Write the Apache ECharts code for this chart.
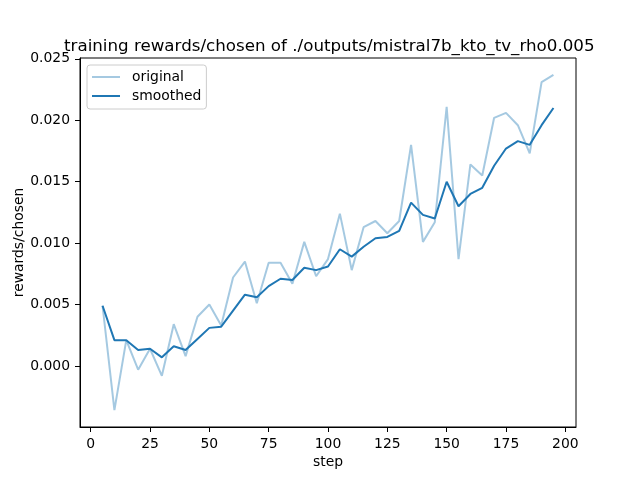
<!DOCTYPE html>
<html>
<head>
<meta charset="utf-8">
<script src="https://cdn.jsdelivr.net/npm/echarts@6/dist/echarts.min.js"></script>
<style>
  html, body { margin: 0; padding: 0; background: #fff; }
  #chart { width: 640px; height: 480px; }
</style>
</head>
<body>
<div id="chart"></div>
<script>
// steps logged every 5
const steps = [5, 10, 15, 20, 25, 30, 35, 40, 45, 50, 55, 60, 65, 70, 75, 80, 85, 90, 95, 100,
  105, 110, 115, 120, 125, 130, 135, 140, 145, 150, 155, 160, 165, 170, 175, 180, 185, 190, 195];
const original = [0.0049, -0.0036, 0.0021, -0.0003, 0.0014, -0.0008, 0.0034, 0.0008, 0.0040, 0.0050,
  0.0033, 0.0072, 0.0085, 0.0051, 0.0084, 0.0084, 0.0067, 0.0101, 0.0073, 0.0087,
  0.0124, 0.0078, 0.0113, 0.0118, 0.0108, 0.0118, 0.0180, 0.0101, 0.0117, 0.0211,
  0.0087, 0.0164, 0.0155, 0.0202, 0.0206, 0.0196, 0.0173, 0.0231, 0.0237];
const smoothed = [0.0049, 0.0021, 0.0021, 0.0013, 0.0014, 0.0007, 0.0016, 0.0013, 0.0022, 0.0031,
  0.0032, 0.0045, 0.0058, 0.0056, 0.0065, 0.0071, 0.0070, 0.0080, 0.0078, 0.0081,
  0.0095, 0.0089, 0.0097, 0.0104, 0.0105, 0.0110, 0.0133, 0.0123, 0.0120, 0.0150,
  0.0130, 0.0140, 0.0145, 0.0163, 0.0177, 0.0183, 0.0180, 0.0196, 0.0210];
const xTicks = [0, 25, 50, 75, 100, 125, 150, 175, 200];
const yTicks = [0, 0.005, 0.010, 0.015, 0.020, 0.025];

const font = 'DejaVu Sans';
let chart = echarts.init(document.getElementById('chart'), null, { renderer: 'canvas' });

let pairs = (ys) => steps.map((s, i) => [s, ys[i]]);

chart.setOption({
    animation: false,
    backgroundColor: '#fff',
    title: {
        text: 'training rewards/chosen of ./outputs/mistral7b_kto_tv_rho0.005',
        left: 59,
        top: 33,
        textStyle: { fontFamily: font, fontSize: 16.7, fontWeight: 'normal', color: '#000' }
    },
    grid: {
        left: 80, right: 64, top: 58, bottom: 53,
        show: true, borderColor: '#000', borderWidth: 1, backgroundColor: 'transparent'
    },
    legend: {
        orient: 'vertical',
        left: 87, top: 65,
        padding: [5, 5, 6, 5],
        itemWidth: 28, itemHeight: 2, itemGap: 5,
        backgroundColor: 'rgba(255,255,255,0.8)',
        borderColor: '#cccccc', borderWidth: 1, borderRadius: 3,
        textStyle: { fontFamily: font, fontSize: 13.9, color: '#000', padding: [0, 0, 0, 7] },
        data: [{ name: 'original', icon: 'rect' }, { name: 'smoothed', icon: 'rect' }]
    },
    xAxis: {
        type: 'value',
        min: -4.5, max: 204.5,
        name: 'step', nameLocation: 'middle', nameGap: 28, nameMoveOverlap: false,
        nameTextStyle: { fontFamily: font, fontSize: 13.9, color: '#000' },
        splitLine: { show: false },
        axisLine: { show: true, onZero: false, lineStyle: { color: '#000', width: 1 } },
        axisTick: { show: true, length: 5, customValues: xTicks, lineStyle: { color: '#000' } },
        axisLabel: { margin: 10, customValues: xTicks, fontFamily: font, fontSize: 13.9, color: '#000' }
    },
    yAxis: {
        type: 'value',
        min: -0.00497, max: 0.02507,
        name: 'rewards/chosen', nameLocation: 'middle', nameGap: 54, nameMoveOverlap: false,
        nameTextStyle: { fontFamily: font, fontSize: 13.9, color: '#000' },
        splitLine: { show: false },
        axisLine: { show: true, onZero: false, lineStyle: { color: '#000', width: 1 } },
        axisTick: { show: true, length: 5, customValues: yTicks, lineStyle: { color: '#000' } },
        axisLabel: {
            margin: 10, customValues: yTicks, fontFamily: font, fontSize: 13.9, color: '#000',
            formatter: (v) => v.toFixed(3)
        }
    },
    series: [
        {
            name: 'original', type: 'line', data: pairs(original),
            symbol: 'none', color: 'rgba(31,119,180,0.4)',
            lineStyle: { color: 'rgba(31,119,180,0.4)', width: 2 }
        },
        {
            name: 'smoothed', type: 'line', data: pairs(smoothed),
            symbol: 'none', color: '#1f77b4',
            lineStyle: { color: '#1f77b4', width: 2 }
        }
    ]
});
</script>
</body>
</html>
